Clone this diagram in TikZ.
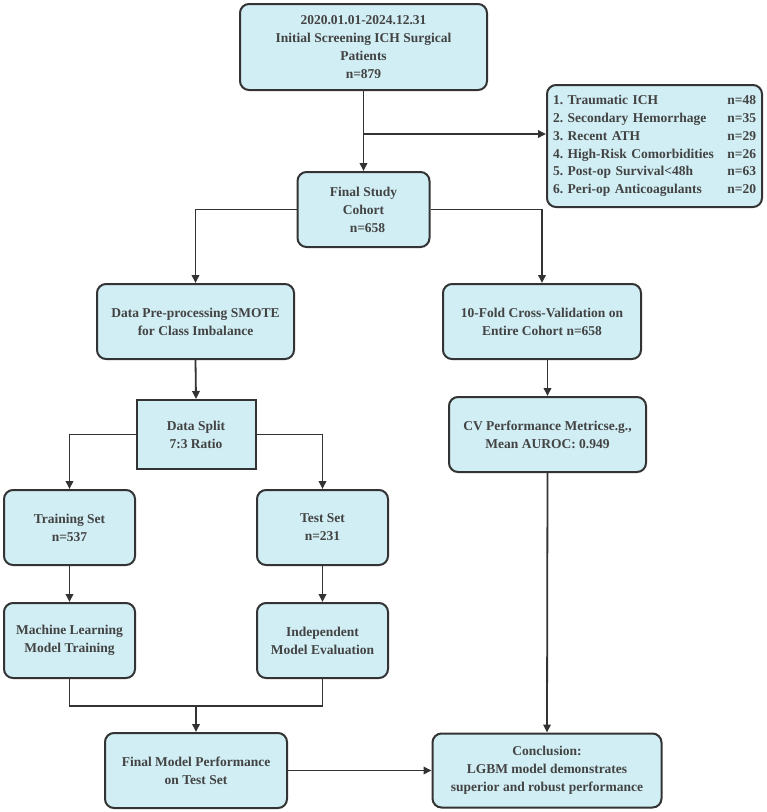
\documentclass[tikz,border=0pt]{standalone}
\usepackage{fontspec}
\setmainfont{Liberation Serif}
\usetikzlibrary{arrows.meta}
\definecolor{boxfill}{HTML}{D0EEF4}
\definecolor{boxline}{HTML}{333333}
\definecolor{txt}{HTML}{434343}
\frenchspacing
\begin{document}
\begin{tikzpicture}[x=1pt,y=-1pt,
  box/.style={draw=boxline, fill=boxfill, line width=2pt, rounded corners=9pt,
    inner sep=0pt, align=center, text=txt,
    font=\bfseries\fontsize{13.5}{18}\selectfont},
  sqbox/.style={box, rounded corners=0pt},
  conn/.style={draw=boxline, line width=1.8pt},
  arr/.style={conn, -{Triangle[length=8pt,width=7.5pt]}}]
\useasboundingbox (0,0) rectangle (767,812);

\node[box, minimum width=247pt, minimum height=86pt] (top) at (363.5,47)
  {2020.01.01-2024.12.31\\Initial Screening ICH Surgical\\Patients\\n=879};
\node[box, minimum width=215pt, minimum height=122pt, align=left, text width=203pt,
  font=\bfseries\fontsize{13.5}{17.7}\selectfont] (excl) at (654.5,146)
  {1. Traumatic ICH\hfill n=48\\
   2. Secondary Hemorrhage\hfill n=35\\
   3. Recent ATH\hfill n=29\\
   4. High-Risk Comorbidities\hfill n=26\\
   5. Post-op Survival<48h\hfill n=63\\
   6. Peri-op Anticoagulants\hfill n=20};
\node[box, minimum width=132pt, minimum height=75pt] (cohort) at (363.5,209.5)
  {Final Study\\Cohort\\\hspace*{8pt}n=658};
\node[box, minimum width=197pt, minimum height=75pt] (prep) at (195.5,321.5)
  {Data Pre-processing SMOTE\\for Class Imbalance};
\node[box, minimum width=198pt, minimum height=75pt] (cv10) at (542,321.5)
  {10-Fold Cross-Validation on\\Entire Cohort n=658};
\node[sqbox, minimum width=119pt, minimum height=69pt] (split) at (196,434.5)
  {Data Split\\7:3 Ratio};
\node[box, minimum width=197pt, minimum height=75pt] (cvperf) at (547.5,434.5)
  {CV Performance Metricse.g.,\\Mean AUROC: 0.949};
\node[box, minimum width=131pt, minimum height=75pt] (train) at (69.5,527.5)
  {Training Set\\n=537};
\node[box, minimum width=131pt, minimum height=75pt] (test) at (322.5,527.5)
  {Test Set\\n=231};
\node[box, minimum width=131pt, minimum height=75pt] (ml) at (69.5,640.5)
  {Machine Learning\\Model Training};
\node[box, minimum width=131pt, minimum height=75pt] (indep) at (322.5,640.5)
  {Independent\\Model Evaluation};
\node[box, minimum width=182pt, minimum height=75pt] (final) at (196,770.5)
  {Final Model Performance\\on Test Set};
\node[box, minimum width=229pt, minimum height=74pt] (concl) at (547,770.5)
  {Conclusion:\\LGBM model demonstrates\\superior and robust performance};

\coordinate (j) at (363.5,134);
\coordinate (merge) at (196,706);

\draw[arr] (top.south) -- (cohort.north);
\draw[arr] (j) -- (j -| excl.west);
\draw[arr] (cohort.west) -| (prep.north);
\draw[arr] (cohort.east) -| (cv10.north);
\draw[arr] (prep.south) -- (split.north);
\draw[arr] (split.west) -| (train.north);
\draw[arr] (split.east) -| (test.north);
\draw[arr] (train.south) -- (ml.north);
\draw[arr] (test.south) -- (indep.north);
\draw[conn] (ml.south) |- (merge) -| (indep.south);
\draw[arr] (merge) -- (final.north);
\draw[arr] (final.east) -- (concl.west);
\draw[arr] (cvperf.north |- cv10.south) -- (cvperf.north);
\draw[arr] (cvperf.south) -- (concl.north);
\end{tikzpicture}
\end{document}
